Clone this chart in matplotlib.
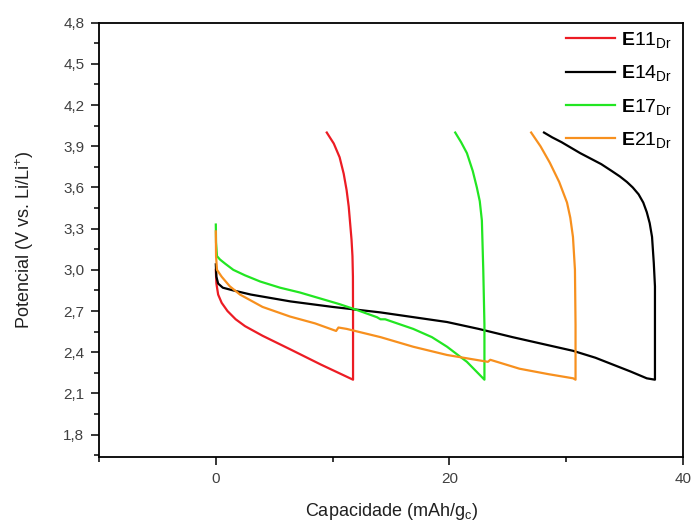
import matplotlib
matplotlib.use("Agg")
import matplotlib.pyplot as plt
from matplotlib.ticker import MultipleLocator, FuncFormatter

plt.rcParams['font.family'] = ['Liberation Sans', 'DejaVu Sans']
plt.rcParams['mathtext.fontset'] = 'custom'
plt.rcParams['mathtext.rm'] = 'Liberation Sans'
plt.rcParams['mathtext.it'] = 'Liberation Sans'
plt.rcParams['mathtext.bf'] = 'Liberation Sans:bold'

# discharge down to 2.2 V, then charge back up to 4.0 V
cap_e11 = [0, 0.05, 0.2, 0.5, 1.0, 1.7, 2.5, 4.0, 6.4, 9.0, 11.75,
           11.75, 11.74, 11.7, 11.62, 11.5, 11.38, 11.2, 10.95, 10.6, 10.1, 9.5]
pot_e11 = [3.0, 2.9, 2.82, 2.76, 2.70, 2.64, 2.59, 2.52, 2.42, 2.31, 2.2,
           2.62, 2.95, 3.10, 3.22, 3.34, 3.46, 3.58, 3.70, 3.82, 3.92, 4.0]

cap_e14 = [0, 0.05, 0.2, 0.6, 1.5, 3.0, 6.4, 10.0, 14.1, 19.8, 22.5, 25.4, 28.0, 30.6, 32.5, 34.0,
           35.5, 36.9, 37.6,
           37.6, 37.6, 37.5, 37.35, 37.15, 36.9, 36.6, 36.2, 35.7, 35.2, 34.6, 33.9, 33.0, 32.1,
           31.2, 30.4, 29.6, 28.8, 28.1]
pot_e14 = [3.04, 2.95, 2.90, 2.87, 2.85, 2.82, 2.77, 2.73, 2.69, 2.62, 2.57, 2.51, 2.46, 2.41, 2.36, 2.31,
           2.26, 2.21, 2.2,
           2.6, 2.88, 3.05, 3.24, 3.34, 3.42, 3.49, 3.55, 3.60, 3.64, 3.68, 3.72, 3.77, 3.81,
           3.85, 3.89, 3.93, 3.965, 4.0]

cap_e17 = [0, 0.02, 0.1, 0.36, 0.8, 1.5, 2.5, 3.8, 5.5, 7.2, 9.0, 10.6, 12.0, 13.8, 14.1, 14.5,
           16.9, 18.5, 19.8, 21.5, 23.0,
           23.0, 22.95, 22.9, 22.78, 22.6, 22.35, 22.0, 21.5, 21.0, 20.5]
pot_e17 = [3.33, 3.2, 3.10, 3.075, 3.045, 3.0, 2.96, 2.915, 2.87, 2.835, 2.79, 2.75, 2.71, 2.655, 2.64, 2.64,
           2.57, 2.51, 2.44, 2.33, 2.2,
           2.6, 2.8, 3.0, 3.36, 3.50, 3.60, 3.72, 3.85, 3.93, 4.0]

cap_e21 = [0, 0.02, 0.1, 0.5, 1.2, 2.07, 4.0, 6.35, 8.5, 10.3, 10.5, 11.2, 14.1, 16.9, 19.8, 22.6,
           23.3, 23.5, 26.0, 28.5, 30.6, 30.8,
           30.8, 30.75, 30.58, 30.35, 30.07, 29.4, 29.0, 28.6, 28.2, 27.8, 27.4, 27.0]
pot_e21 = [3.28, 3.1, 3.0, 2.95, 2.88, 2.82, 2.73, 2.66, 2.61, 2.555, 2.58, 2.57, 2.51, 2.44, 2.38, 2.34,
           2.33, 2.345, 2.28, 2.24, 2.21, 2.2,
           2.6, 3.0, 3.24, 3.38, 3.49, 3.64, 3.71, 3.78, 3.84, 3.9, 3.95, 4.0]

labels = [r'$\mathbf{E}$11$_{\mathrm{Dr}}$', r'$\mathbf{E}$14$_{\mathrm{Dr}}$',
          r'$\mathbf{E}$17$_{\mathrm{Dr}}$', r'$\mathbf{E}$21$_{\mathrm{Dr}}$']
colors = ['#ec1c24', '#000000', '#22e622', '#f7901e']

fig = plt.figure(figsize=(6.91, 5.23), dpi=100)
ax = fig.add_axes([0.1433, 0.1262, 0.8451, 0.8304])

series = [(cap_e11, pot_e11), (cap_e14, pot_e14), (cap_e17, pot_e17), (cap_e21, pot_e21)]
for (x, y), lab, col in zip(series, labels, colors):
    ax.plot(x, y, color=col, lw=1.6, label=lab)

ax.set_xlim(-10, 40)
ax.set_ylim(1.637, 4.8)
ax.xaxis.set_major_locator(MultipleLocator(20))
ax.xaxis.set_minor_locator(MultipleLocator(10))
ax.yaxis.set_major_locator(MultipleLocator(0.3))
ax.yaxis.set_minor_locator(MultipleLocator(0.15))
ax.yaxis.set_major_formatter(FuncFormatter(lambda v, p: f"{v:.1f}".replace('.', ',')))

ax.tick_params(which='both', direction='out', top=False, right=False,
               colors='black', labelcolor='#404040', labelsize=11)
ax.tick_params(which='major', length=6, width=1.1, pad=4.5)
ax.tick_params(which='minor', length=3.5, width=1.1)
for s in ax.spines.values():
    s.set_linewidth(1.3)

ax.set_xlabel(r'Capacidade (mAh/g$_{\mathrm{c}}$)', fontsize=13, color='#202020', labelpad=11)
ax.set_ylabel(r'Potencial (V vs. Li/Li$^{+}$)', fontsize=13, color='#202020', labelpad=20)

ax.legend(loc='upper right', bbox_to_anchor=(1.011, 1.023), frameon=False, fontsize=14,
          handlelength=2.5, handletextpad=0.3, labelspacing=0.68)

fig.savefig('out.png', dpi=100)
